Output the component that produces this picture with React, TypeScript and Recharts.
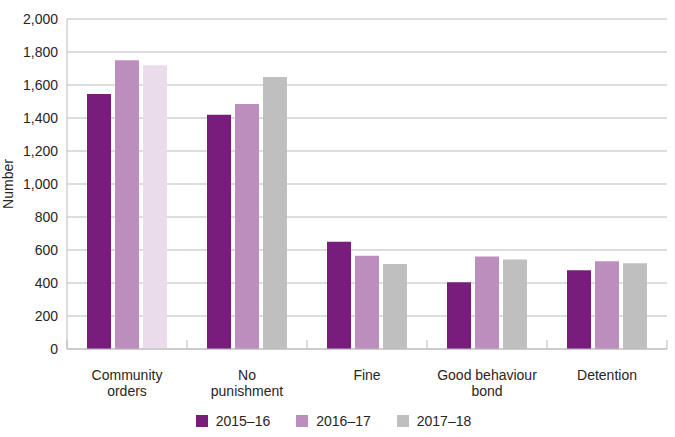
import React from 'react';
import { BarChart, Bar, XAxis, YAxis, CartesianGrid, Legend, Cell } from 'recharts';

const categories = ['Community orders', 'No punishment', 'Fine', 'Good behaviour bond', 'Detention'];
const tickLines = [['Community', 'orders'], ['No', 'punishment'], ['Fine'], ['Good behaviour', 'bond'], ['Detention']];
const series2015 = [1545, 1420, 650, 405, 478];
const series2016 = [1750, 1485, 565, 560, 532];
const series2017 = [1720, 1648, 515, 542, 520];
const seriesNames = ['2015\u201316', '2016\u201317', '2017\u201318'];
const yTicks = [0, 200, 400, 600, 800, 1000, 1200, 1400, 1600, 1800, 2000];

const colors = ['#791D7C', '#BC8EBE', '#BFBFBF'];
const highlight2017 = '#EADCEB';
const axisColor = '#BBBBBB';
const textColor = '#262626';
const font = '"Liberation Sans", Arial, sans-serif';

const data = categories.map((c, i) => ({
  name: c,
  s2015: series2015[i],
  s2016: series2016[i],
  s2017: series2017[i],
}));

const CategoryTick = (props: any) => {
  const { x, y, payload, index, visibleTicksCount, width } = props;
  const half = payload && payload.offset ? payload.offset : width / visibleTicksCount / 2;
  const lines = tickLines[index] || [payload.value];
  return (
    <g>
      <line x1={x - half} x2={x - half} y1={y} y2={y - 9} stroke={axisColor} />
      {index === visibleTicksCount - 1 && (
        <line x1={x + half} x2={x + half} y1={y} y2={y - 9} stroke={axisColor} />
      )}
      <text x={x} y={y} textAnchor="middle" fontSize={14} fill={textColor} fontFamily={font}>
        {lines.map((l: string, i: number) => (
          <tspan key={i} x={x} dy={i === 0 ? 31 : 16}>
            {l}
          </tspan>
        ))}
      </text>
    </g>
  );
};

const LegendContent = () => (
  <div
    style={{
      height: 25,
      display: 'flex',
      justifyContent: 'center',
      alignItems: 'flex-start',
      paddingTop: 3,
      boxSizing: 'border-box',
      fontFamily: font,
      fontSize: 14,
      color: textColor,
    }}
  >
    {seriesNames.map((n, i) => (
      <div key={n} style={{ display: 'flex', alignItems: 'center', marginLeft: i === 0 ? 0 : 26 }}>
        <div style={{ width: 12, height: 12, background: colors[i], marginRight: 8 }} />
        <span style={{ lineHeight: '12px' }}>{n}</span>
      </div>
    ))}
  </div>
);

const NumberLabel = (props: any) => {
  const { viewBox } = props;
  const cx = viewBox.x + 8;
  const cy = viewBox.y + viewBox.height / 2;
  return (
    <text
      x={cx}
      y={cy}
      transform={`rotate(-90 ${cx} ${cy})`}
      textAnchor="middle"
      dominantBaseline="central"
      fontSize={14}
      fill={textColor}
      fontFamily={font}
    >
      Number
    </text>
  );
};

export default function App() {
  return (
    <div style={{ position: 'absolute', left: 0, top: 0, width: 675, height: 437, background: '#fff' }}>
      <BarChart
        width={675}
        height={437}
        data={data}
        margin={{ top: 19, right: 8, left: 0, bottom: 0 }}
        barSize={24}
        barGap={4}
      >
        <CartesianGrid vertical={false} stroke={axisColor} strokeWidth={1} />
        <XAxis
          dataKey="name"
          height={63}
          axisLine={{ stroke: axisColor }}
          tickLine={false}
          tickSize={0}
          tickMargin={0}
          interval={0}
          tick={<CategoryTick />}
        />
        <YAxis
          width={67}
          domain={[0, 2000]}
          ticks={yTicks}
          interval={0}
          axisLine={{ stroke: axisColor }}
          tickLine={false}
          tickSize={0}
          tickMargin={9}
          tick={{ fontSize: 14, fill: textColor, fontFamily: font }}
          tickFormatter={(v: number) => v.toLocaleString('en-US')}
          label={<NumberLabel />}
        />
        <Legend verticalAlign="bottom" content={<LegendContent />} />
        <Bar dataKey="s2015" name={seriesNames[0]} fill={colors[0]} isAnimationActive={false} />
        <Bar dataKey="s2016" name={seriesNames[1]} fill={colors[1]} isAnimationActive={false} />
        <Bar dataKey="s2017" name={seriesNames[2]} fill={colors[2]} isAnimationActive={false}>
          {data.map((d, i) => (
            <Cell key={d.name} fill={i === 0 ? highlight2017 : colors[2]} />
          ))}
        </Bar>
      </BarChart>
    </div>
  );
}
